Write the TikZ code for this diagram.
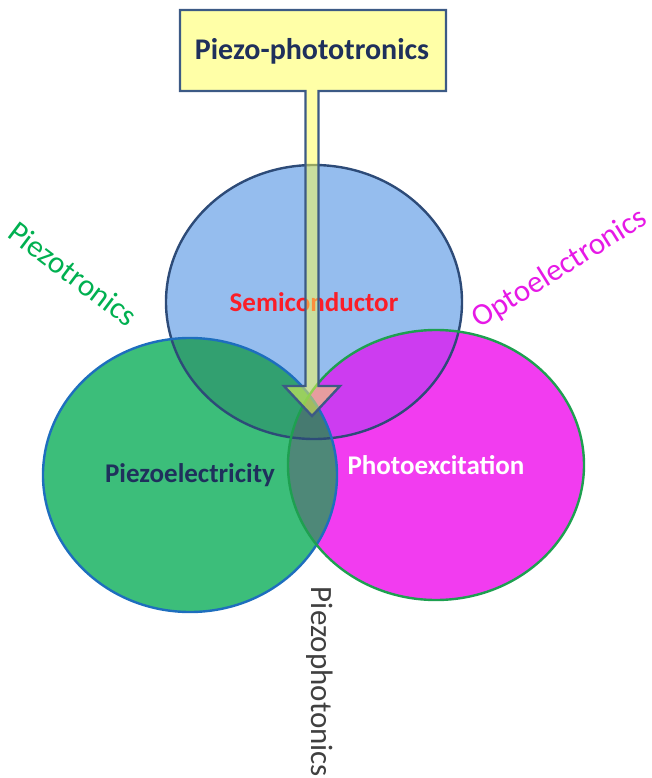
\documentclass[tikz,border=0pt]{standalone}
\usepackage{fontspec}
\setmainfont{Carlito}
\usetikzlibrary{shapes.geometric}
\definecolor{semifill}{RGB}{149,189,238}
\definecolor{semirim}{RGB}{45,75,120}
\definecolor{piezofill}{RGB}{60,190,122}
\definecolor{piezorim}{RGB}{30,110,190}
\definecolor{photofill}{RGB}{242,60,240}
\definecolor{photorim}{RGB}{30,160,80}
\definecolor{semipiezo}{RGB}{50,160,112}
\definecolor{semiphoto}{RGB}{205,60,240}
\definecolor{piezophoto}{RGB}{78,136,120}
\definecolor{allthree}{RGB}{70,122,112}
\definecolor{calloutfill}{RGB}{255,255,80}
\definecolor{calloutrim}{RGB}{60,90,133}
\definecolor{navytext}{RGB}{31,48,92}
\definecolor{redtext}{RGB}{250,30,40}
\definecolor{tronicsgreen}{RGB}{0,176,80}
\definecolor{optomagenta}{RGB}{230,25,230}
\definecolor{photonicsgrey}{RGB}{64,64,64}
\tikzset{%
   bubble/.style={ellipse, inner sep=0mm, outer sep=0mm, minimum width=296pt, minimum height=274pt,
      font=\fontsize{27}{31}\selectfont\bfseries},
   rim/.style={line width=2.4pt},
   callout/.style={draw=calloutrim, line width=2.4pt, fill=calloutfill, fill opacity=.5, line join=miter},
   titletext/.style={text=navytext, font=\fontsize{30}{34}\selectfont\bfseries},
   sidetext/.style={font=\fontsize{31}{35}\selectfont},
}

\begin{document}
\begin{tikzpicture}[x=1pt, y=-1pt]
   \useasboundingbox (0,0) rectangle (652,778);
   \node[bubble, fill=semifill, text=redtext] (semi) at (314,302) {Semiconductor};
   \node[bubble, fill=piezofill, minimum width=294pt, text=navytext] (piezo) at (190,475) {Piezoelectricity};
   \node[bubble, fill=photofill, minimum height=270pt, text=white] (photo) at (436,465) {Photoexcitation};
   \begin{scope}
      \clip (semi.center) ellipse [x radius=148pt, y radius=137pt];
      \fill[semipiezo] (piezo.center) ellipse [x radius=147pt, y radius=137pt];
      \fill[semiphoto] (photo.center) ellipse [x radius=148pt, y radius=135pt];
   \end{scope}
   \begin{scope}
      \clip (piezo.center) ellipse [x radius=147pt, y radius=137pt];
      \fill[piezophoto] (photo.center) ellipse [x radius=148pt, y radius=135pt];
      \clip (semi.center) ellipse [x radius=148pt, y radius=137pt];
      \fill[allthree] (photo.center) ellipse [x radius=148pt, y radius=135pt];
   \end{scope}
   \draw[rim, semirim] (semi.center) ellipse [x radius=148pt, y radius=137pt];
   \draw[rim, piezorim] (piezo.center) ellipse [x radius=147pt, y radius=137pt];
   \draw[rim, photorim] (photo.center) ellipse [x radius=148pt, y radius=135pt];
   \draw[callout] (180,10) -- (446,10) -- (446,91) -- (318.5,91) -- (318.5,386) -- (340,386)
      -- (312,416) -- (284,386) -- (305.5,386) -- (305.5,91) -- (180,91) -- cycle;
   \node[titletext] (title) at (312,51) {Piezo-phototronics};
   \node[sidetext, text=tronicsgreen, rotate=-37] (tronics) at (73,274) {Piezotronics};
   \node[sidetext, text=optomagenta, rotate=32] (opto) at (560,269) {Optoelectronics};
   \node[sidetext, text=photonicsgrey, rotate=-90] (photonics) at (320,682) {Piezophotonics};
\end{tikzpicture}
\end{document}
